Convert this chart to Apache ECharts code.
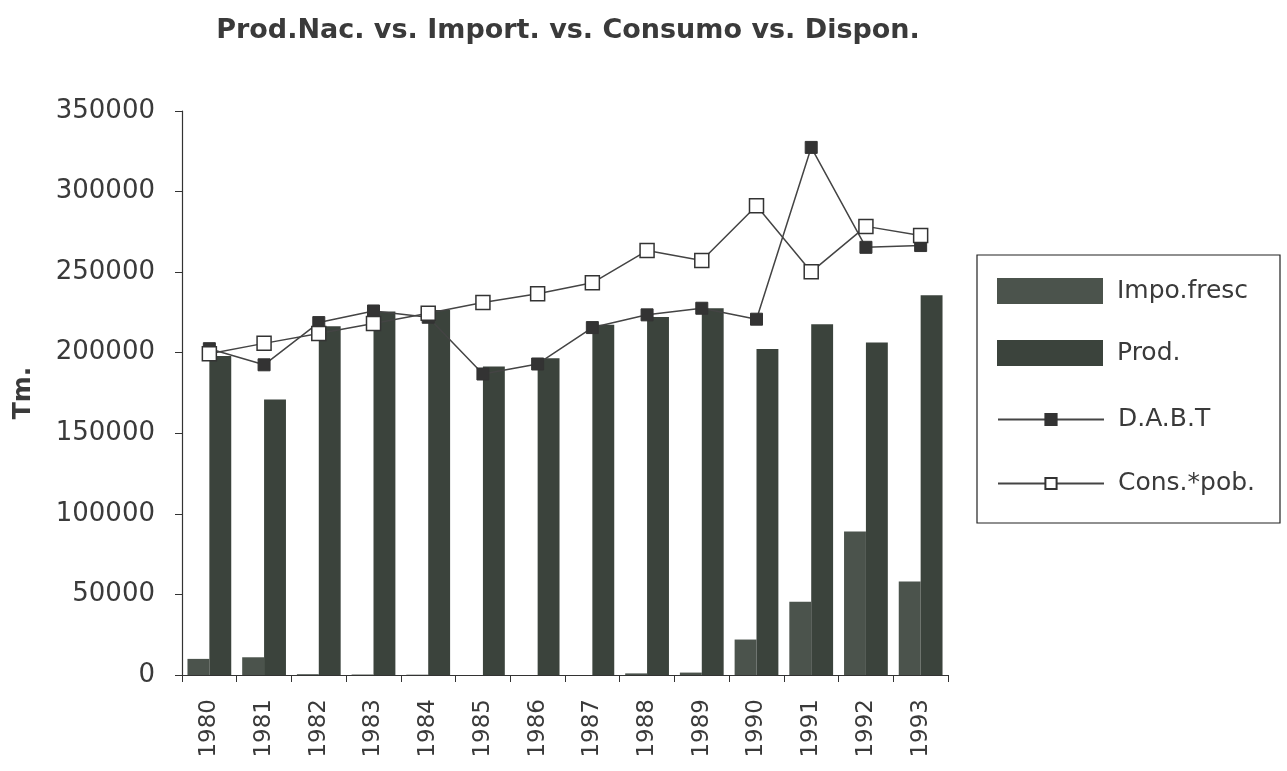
<!DOCTYPE html>
<html>
<head>
    <meta charset="UTF-8">
    <title>Prod.Nac. vs. Import.</title>
</head>
<body style="margin:0;background:#fff;">
    <div id="main"></div>
</body>
<style type="text/css">
    #main{height: 771px;width: 1287px;}
</style>
<script type="text/javascript" src="https://cdn.jsdelivr.net/npm/echarts@6/dist/echarts.min.js"></script>
<script type="text/javascript">
var years = ['1980','1981','1982','1983','1984','1985','1986','1987','1988','1989','1990','1991','1992','1993'];
var impoFresc = [10000, 11000, 500, 300, 200, 0, 0, 0, 1000, 1500, 22000, 45500, 89000, 58000];
var prod = [198000, 171000, 216500, 225500, 226500, 191500, 196500, 217300, 222200, 227600, 202300, 217700, 206400, 235600];
var dabt = [202500, 192500, 218700, 225900, 222000, 186800, 193000, 215600, 223500, 227600, 220800, 327400, 265400, 266500];
var consPob = [199400, 205800, 211900, 218100, 224500, 231100, 236600, 243400, 263400, 257200, 291200, 250200, 278400, 272700];

var chart = echarts.init(document.getElementById('main'));
var txt = '#3a3a3a';
var fnt = 'DejaVu Sans, sans-serif';

chart.setOption({
    animation: false,
    backgroundColor: '#fff',
    textStyle: { fontFamily: fnt, color: txt },
    title: {
        text: 'Prod.Nac. vs. Import. vs. Consumo vs. Dispon.',
        left: 563, top: 12, textAlign: 'center',
        textStyle: { fontSize: 27, fontWeight: 'bold', color: txt, fontFamily: fnt }
    },
    grid: { left: 182, right: 339, top: 111, bottom: 96 },
    legend: [
        {
            data: ['Impo.fresc', 'Prod.'],
            orient: 'vertical', left: 997, top: 278, padding: 0,
            itemWidth: 106, itemHeight: 26, itemGap: 36,
            icon: 'rect',
            textStyle: { fontSize: 25, lineHeight: 26, color: txt, fontFamily: fnt, padding: [0, 0, 0, 9] }
        },
        {
            data: ['D.A.B.T', 'Cons.*pob.'],
            orient: 'vertical', left: 997, top: 407, padding: 0,
            itemWidth: 106, itemHeight: 14, itemGap: 39,
            textStyle: { fontSize: 25, lineHeight: 14, color: txt, fontFamily: fnt, padding: [0, 0, 0, 9] }
        }
    ],
    graphic: [{
        type: 'rect',
        shape: { x: 977, y: 255, width: 303, height: 268 },
        style: { fill: 'none', stroke: '#222', lineWidth: 1.2 }
    }],
    xAxis: {
        type: 'category',
        data: years,
        axisLine: { lineStyle: { color: '#333', width: 1.2 } },
        axisTick: { show: true, length: 7, lineStyle: { color: '#333' } },
        axisLabel: { rotate: 90, fontSize: 23, color: txt, margin: 24, fontFamily: fnt }
    },
    yAxis: {
        type: 'value',
        min: 0, max: 350000, interval: 50000,
        name: 'Tm.',
        nameLocation: 'middle',
        nameGap: 146,
        nameTextStyle: { fontSize: 25, fontWeight: 'bold', color: txt, fontFamily: fnt },
        axisLine: { show: true, lineStyle: { color: '#333', width: 1.2 } },
        axisTick: { show: true, length: 7, lineStyle: { color: '#333' } },
        splitLine: { show: false },
        axisLabel: { fontSize: 26, color: txt, margin: 27, fontFamily: fnt, formatter: function (v) { return String(v); } }
    },
    series: [
        {
            name: 'Impo.fresc', type: 'bar', data: impoFresc,
            barGap: '0%', barCategoryGap: '20%',
            itemStyle: { color: '#4b534c' }
        },
        {
            name: 'Prod.', type: 'bar', data: prod,
            barGap: '0%', barCategoryGap: '20%',
            itemStyle: { color: '#3b433c' }
        },
        {
            name: 'D.A.B.T', type: 'line', data: dabt, z: 3,
            symbol: 'rect', symbolSize: 12, showAllSymbol: true,
            lineStyle: { color: '#444', width: 1.5 },
            itemStyle: { color: '#333', borderColor: '#333', borderWidth: 1 }
        },
        {
            name: 'Cons.*pob.', type: 'line', data: consPob, z: 4,
            symbol: 'rect', symbolSize: 14, showAllSymbol: true,
            lineStyle: { color: '#444', width: 1.5 },
            itemStyle: { color: '#fff', borderColor: '#333', borderWidth: 1.5 }
        }
    ]
});
</script>
</html>
